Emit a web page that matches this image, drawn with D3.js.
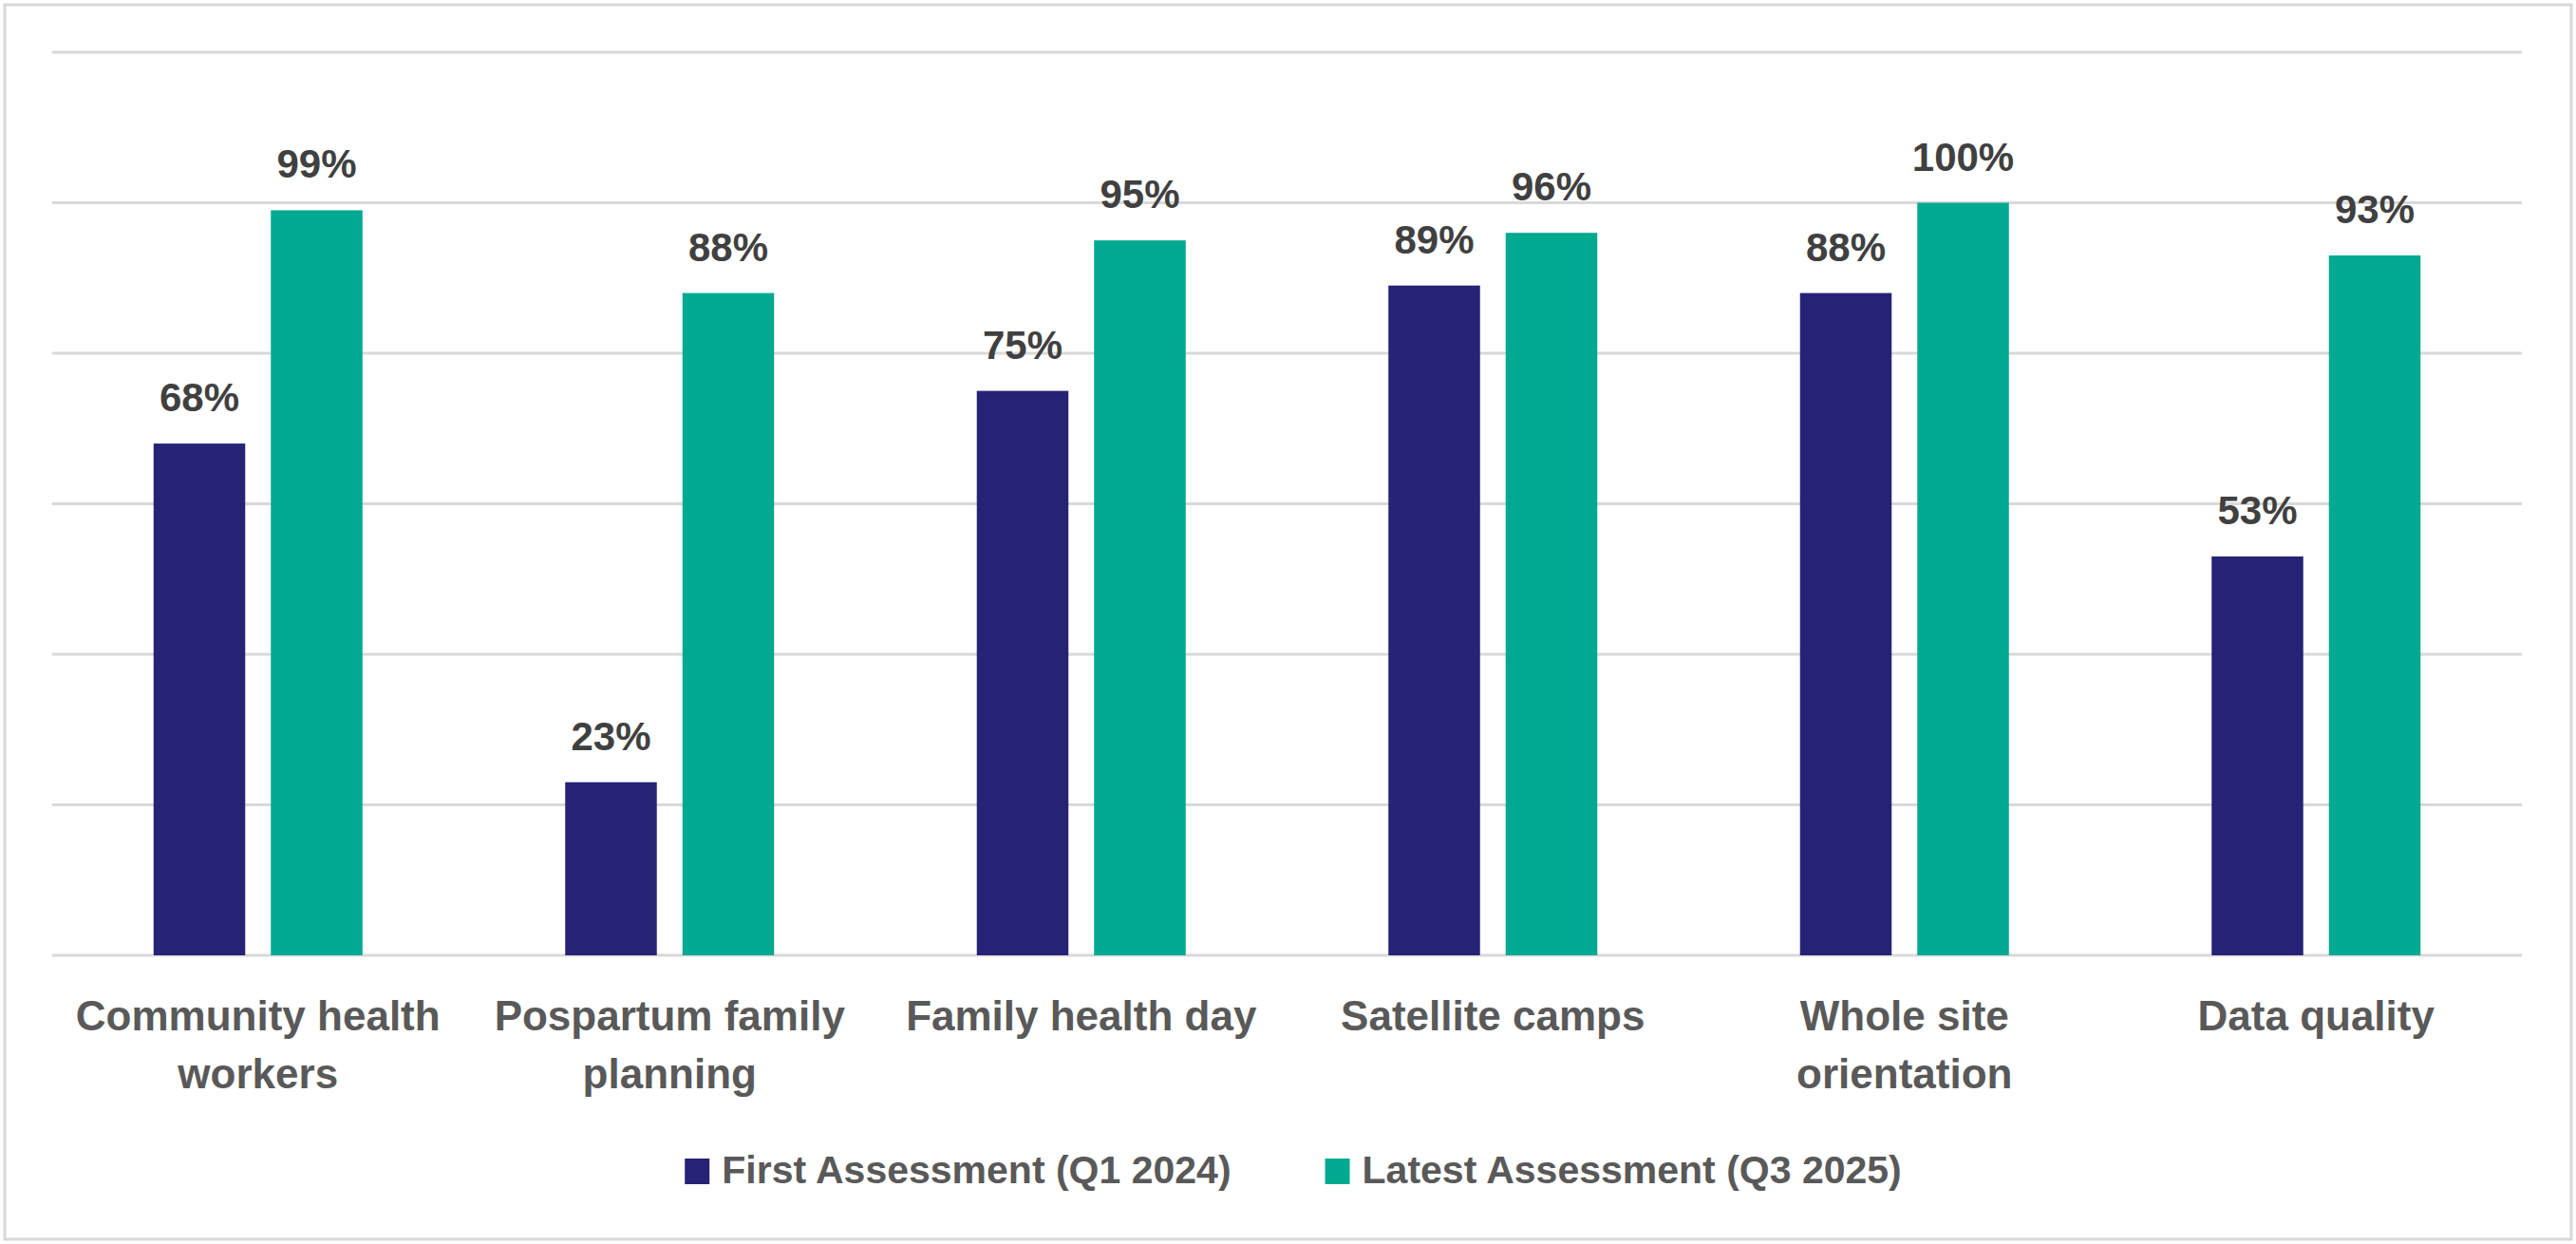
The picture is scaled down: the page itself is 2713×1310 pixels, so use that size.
<!DOCTYPE html>
<html>
<head>
<meta charset="utf-8">
<script src="https://cdn.jsdelivr.net/npm/d3@7"></script>
<style>
  body { margin: 0; background: #fff; }
  svg { display: block; }
</style>
</head>
<body>
<svg id="chart" width="2713" height="1310"></svg>
<script>
// data
var categories = [
  ["Community health", "workers"],
  ["Pospartum family", "planning"],
  ["Family health day"],
  ["Satellite camps"],
  ["Whole site", "orientation"],
  ["Data quality"]
];
var seriesNames = ["First Assessment (Q1 2024)", "Latest Assessment (Q3 2025)"];
var firstValues = [0.68, 0.23, 0.75, 0.89, 0.88, 0.53];
var latestValues = [0.99, 0.88, 0.95, 0.96, 1.00, 0.93];
var yTicks = [0, 0.2, 0.4, 0.6, 0.8, 1.0, 1.2];

var colors = ["#262275", "#00A990"];
var W = 2713, H = 1310;
var plot = { left: 55, right: 2656, top: 55, bottom: 1006 };

var svg = d3.select("#chart");

// outer border
svg.append("rect")
  .attr("x", 5).attr("y", 5)
  .attr("width", W - 10).attr("height", H - 10)
  .attr("fill", "#fff")
  .attr("stroke", "#D9D9D9")
  .attr("stroke-width", 3);

var x0 = d3.scaleBand()
  .domain(d3.range(categories.length))
  .range([plot.left, plot.right]);

var y = d3.scaleLinear()
  .domain([0, 1.2])
  .range([plot.bottom, plot.top]);

// gridlines
svg.append("g")
  .selectAll("line")
  .data(yTicks)
  .enter().append("line")
  .attr("x1", plot.left).attr("x2", plot.right)
  .attr("y1", function(d) { return y(d); })
  .attr("y2", function(d) { return y(d); })
  .attr("stroke", "#D9D9D9")
  .attr("stroke-width", 3);

var barW = 96.5, innerGap = 27;
var rows = categories.map(function(c, i) {
  return [firstValues[i], latestValues[i]];
});

var groups = svg.append("g")
  .selectAll("g")
  .data(rows)
  .enter().append("g")
  .attr("transform", function(d, i) {
    var cx = x0(i) + x0.bandwidth() / 2;
    return "translate(" + (cx - barW - innerGap / 2) + ",0)";
  });

groups.selectAll("rect")
  .data(function(d) { return d; })
  .enter().append("rect")
  .attr("x", function(d, j) { return j * (barW + innerGap); })
  .attr("y", function(d) { return y(d); })
  .attr("width", barW)
  .attr("height", function(d) { return y(0) - y(d); })
  .attr("fill", function(d, j) { return colors[j]; });

groups.selectAll("text")
  .data(function(d) { return d; })
  .enter().append("text")
  .attr("x", function(d, j) { return j * (barW + innerGap) + barW / 2; })
  .attr("y", function(d) { return y(d) - 34; })
  .attr("text-anchor", "middle")
  .attr("font-family", "'Liberation Sans', Arial, sans-serif")
  .attr("font-weight", "bold")
  .attr("font-size", 42)
  .attr("fill", "#404040")
  .text(function(d) { return d3.format(".0%")(d); });

// category labels
var catLabels = svg.append("g")
  .selectAll("text")
  .data(categories)
  .enter().append("text")
  .attr("x", function(d, i) { return x0(i) + x0.bandwidth() / 2; })
  .attr("y", 1085)
  .attr("text-anchor", "middle")
  .attr("font-family", "'Liberation Sans', Arial, sans-serif")
  .attr("font-weight", "bold")
  .attr("font-size", 44)
  .attr("fill", "#595959");

catLabels.selectAll("tspan")
  .data(function(d) { return d; })
  .enter().append("tspan")
  .attr("x", function() { return d3.select(this.parentNode).attr("x"); })
  .attr("dy", function(d, k) { return k === 0 ? 0 : 61; })
  .text(function(d) { return d; });

// legend
var legend = svg.append("g");
var items = legend.selectAll("g")
  .data(seriesNames)
  .enter().append("g");

items.append("rect")
  .attr("y", 1220)
  .attr("width", 26).attr("height", 27)
  .attr("fill", function(d, i) { return colors[i]; });

items.append("text")
  .attr("x", 39)
  .attr("y", 1246)
  .attr("font-family", "'Liberation Sans', Arial, sans-serif")
  .attr("font-weight", "bold")
  .attr("font-size", 41)
  .attr("fill", "#595959")
  .text(function(d) { return d; });

var offsets = [], pos = 0;
items.each(function(d, i) {
  offsets.push(pos);
  var w = d3.select(this).select("text").node().getComputedTextLength();
  pos += 39 + w + 99;
});
var total = pos - 99;
var startX = 1362 - total / 2;
items.attr("transform", function(d, i) {
  return "translate(" + (startX + offsets[i]) + ",0)";
});
</script>
</body>
</html>
